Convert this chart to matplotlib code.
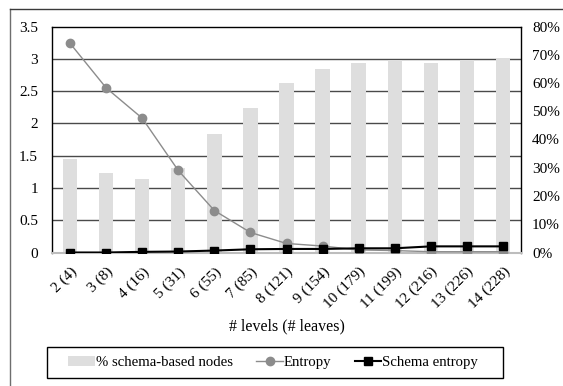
import numpy as np
import matplotlib
matplotlib.use('Agg')
import matplotlib.pyplot as plt
import matplotlib.transforms as mtransforms
from matplotlib.ticker import FixedLocator, FuncFormatter
from matplotlib.patches import Patch, Rectangle
from matplotlib.lines import Line2D

# data
labels = ['2 (4)', '3 (8)', '4 (16)', '5 (31)', '6 (55)', '7 (85)', '8 (121)',
          '9 (154)', '10 (179)', '11 (199)', '12 (216)', '13 (226)', '14 (228)']
schema_pct = [33, 28, 26, 30, 42, 51, 60, 65, 67, 68, 67, 68, 69]
entropy = [3.24, 2.55, 2.08, 1.27, 0.65, 0.31, 0.14, 0.10, 0.04, 0.03, 0.012, 0.012, 0.012]
schema_entropy = [0.0, 0.0, 0.01, 0.015, 0.03, 0.05, 0.055, 0.055, 0.065, 0.065, 0.095, 0.095, 0.095]

plt.rcParams['font.family'] = ['Liberation Serif', 'DejaVu Serif']
fs = 11

W, H = 563, 386
fig = plt.figure(figsize=(W / 100, H / 100), dpi=100)

# outer frame (cut by the picture edges on right and bottom)
fig.add_artist(Line2D([9.5 / W, 9.5 / W], [0, 1 - 9 / H], transform=fig.transFigure, color='#6e6e6e', lw=1))
fig.add_artist(Line2D([9.5 / W, 1], [1 - 9 / H, 1 - 9 / H], transform=fig.transFigure, color='#3a3a3a', lw=1))

# bars on the right axis, lines on the left axis drawn above
ax = fig.add_axes([52 / W, (H - 252.5) / H, 469 / W, 226 / H])
ax2 = ax.twinx()
ax.set_zorder(ax2.get_zorder() + 1)
ax.patch.set_visible(False)

x = np.arange(len(labels))
ax2.bar(x, schema_pct, width=0.4, color='#dedede', zorder=2)
ax2.set_ylim(0, 80)
ax2.set_yticks(np.arange(0, 81, 10))
ax2.yaxis.set_major_formatter(FuncFormatter(lambda v, p: f'{v:.0f}%'))
# gridlines follow the left axis ticks, behind the bars
ax2.yaxis.set_minor_locator(FixedLocator(np.arange(8) * 80 / 7))
ax2.grid(which='minor', axis='y', color='#4a4a4a', lw=1, zorder=0)
ax2.set_axisbelow(True)
ax2.tick_params(which='both', length=0, labelsize=fs, pad=8)
for s in ax2.spines.values():
    s.set_visible(False)

ax.plot(x, entropy, color='#8c8c8c', lw=1, marker='o', ms=6, label='Entropy', zorder=3)
ax.plot(x, schema_entropy, color='black', lw=1.5, marker='s', ms=5.5, label='Schema entropy', zorder=4)
ax.set_ylim(0, 3.5)
ax.set_xlim(-0.5, len(labels) - 0.5)
ax.set_yticks(np.arange(0, 3.51, 0.5))
ax.yaxis.set_major_formatter(FuncFormatter(lambda v, p: f'{v:g}'))
ax.set_xticks(x)
ax.set_xticklabels(labels, rotation=45, ha='right', rotation_mode='anchor')
shift = mtransforms.ScaledTranslation(-3 / 100, 0, fig.dpi_scale_trans)
for t in ax.get_xticklabels():
    t.set_transform(t.get_transform() + shift)
ax.tick_params(axis='both', length=0, labelsize=fs)
ax.tick_params(axis='y', pad=10)
ax.tick_params(axis='x', pad=9)
ax.set_xlabel('# levels (# leaves)', fontsize=11.4, labelpad=5)
for side in ['top', 'right', 'left']:
    ax.spines[side].set_color('black')
    ax.spines[side].set_linewidth(1)
ax.spines['bottom'].set_color('#bdbdbd')
ax.spines['bottom'].set_linewidth(1.5)

# legend frame drawn on its own, entries placed inside it
fig.add_artist(Rectangle((47 / W, 8 / H), 456 / W, 31 / H, transform=fig.transFigure,
                         facecolor='white', edgecolor='black', lw=1))
handles = [Patch(facecolor='#dedede', edgecolor='none'),
           Line2D([], [], color='#8c8c8c', lw=1, marker='o', ms=6),
           Line2D([], [], color='black', lw=1.5, marker='s', ms=5.5)]
leg = fig.legend(handles, ['% schema-based nodes', 'Entropy', 'Schema entropy'],
                 loc='center', bbox_to_anchor=(273 / W, 23.5 / H), ncol=3,
                 fontsize=10.6, frameon=False,
                 handlelength=1.8, handletextpad=0.05, columnspacing=1.6)

fig.savefig('out.png', dpi=100)
